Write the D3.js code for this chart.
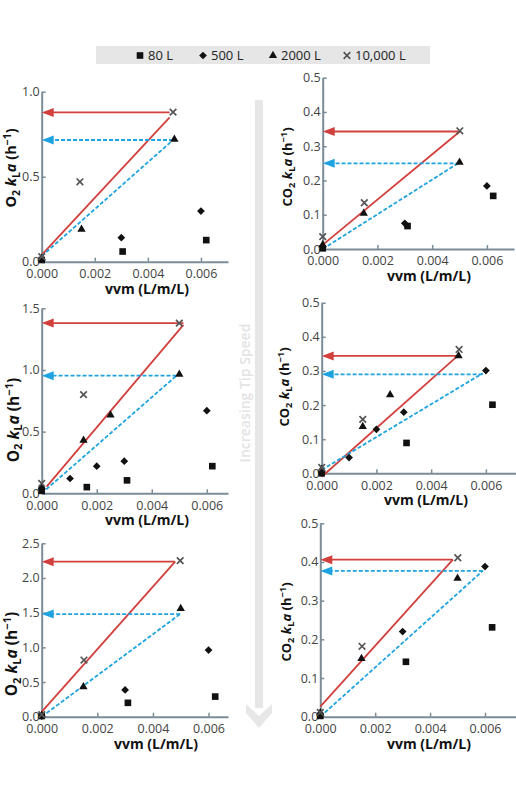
<!DOCTYPE html>
<meta charset="utf-8">
<style>
  body { margin: 0; background: #fff; font-family: "Open Sans", sans-serif; }
  .axis path, .axis line { stroke: #7b8c97; }
  .axis path { stroke-width: 2px; }
  .axis line { stroke-width: 1.5px; }
  .axis text { font-family: "Open Sans", sans-serif; font-size: 12.5px; fill: #444; }
</style>
<body>
<div id="chart"></div>
<script src="https://cdn.jsdelivr.net/npm/d3@7"></script>
<script>
// reactor sizes (legend)
const sizes = ["80 L", "500 L", "2000 L", "10,000 L"];
const xTicks = [0, 0.002, 0.004, 0.006];

// [size, vvm, kLa]  -- lowest tip speed
const o2Low = [
  ["80 L", 0, 0.01], ["80 L", 0.00305, 0.06], ["80 L", 0.0062, 0.127],
  ["500 L", 0, 0.015], ["500 L", 0.003, 0.141], ["500 L", 0.006, 0.298],
  ["2000 L", 0, 0.02], ["2000 L", 0.0015, 0.19], ["2000 L", 0.005, 0.72],
  ["10,000 L", 0, 0.03], ["10,000 L", 0.00144, 0.47], ["10,000 L", 0.00495, 0.88]
];
const co2Low = [
  ["80 L", 0, 0.002], ["80 L", 0.0031, 0.067], ["80 L", 0.00623, 0.155],
  ["500 L", 0, 0.007], ["500 L", 0.003, 0.075], ["500 L", 0.006, 0.184],
  ["2000 L", 0, 0.012], ["2000 L", 0.0015, 0.104], ["2000 L", 0.005, 0.253],
  ["10,000 L", 0, 0.036], ["10,000 L", 0.00152, 0.135], ["10,000 L", 0.00501, 0.345]
];
// middle tip speed
const o2Mid = [
  ["80 L", 0, 0.02], ["80 L", 0.00164, 0.05], ["80 L", 0.0031, 0.105], ["80 L", 0.0062, 0.22],
  ["500 L", 0, 0.04], ["500 L", 0.00103, 0.12], ["500 L", 0.002, 0.22], ["500 L", 0.003, 0.26], ["500 L", 0.006, 0.67],
  ["2000 L", 0, 0.05], ["2000 L", 0.00152, 0.43], ["2000 L", 0.0025, 0.635], ["2000 L", 0.005, 0.965],
  ["10,000 L", 0, 0.08], ["10,000 L", 0.00152, 0.8], ["10,000 L", 0.005, 1.38]
];
const co2Mid = [
  ["80 L", 0, 0], ["80 L", 0.0031, 0.089], ["80 L", 0.00624, 0.201],
  ["500 L", 0, 0.002], ["500 L", 0.001, 0.046], ["500 L", 0.002, 0.129], ["500 L", 0.003, 0.179], ["500 L", 0.006, 0.301],
  ["2000 L", 0, 0.012], ["2000 L", 0.0015, 0.137], ["2000 L", 0.0025, 0.23], ["2000 L", 0.005, 0.344],
  ["10,000 L", 0, 0.017], ["10,000 L", 0.0015, 0.158], ["10,000 L", 0.00502, 0.363]
];
// highest tip speed
const o2High = [
  ["80 L", 0, 0.01], ["80 L", 0.0031, 0.2], ["80 L", 0.00624, 0.29],
  ["500 L", 0, 0.01], ["500 L", 0.003, 0.385], ["500 L", 0.006, 0.96],
  ["2000 L", 0, 0.02], ["2000 L", 0.0015, 0.43], ["2000 L", 0.005, 1.56],
  ["10,000 L", 0, 0.03], ["10,000 L", 0.00152, 0.817], ["10,000 L", 0.00498, 2.25]
];
const co2High = [
  ["80 L", 0, 0.002], ["80 L", 0.00312, 0.142], ["80 L", 0.00626, 0.231],
  ["500 L", 0, 0.004], ["500 L", 0.003, 0.22], ["500 L", 0.006, 0.388],
  ["2000 L", 0, 0.01], ["2000 L", 0.0015, 0.15], ["2000 L", 0.005, 0.358],
  ["10,000 L", 0, 0.011], ["10,000 L", 0.00152, 0.182], ["10,000 L", 0.00501, 0.411]
];

// fit lines: [vvm0, kLa0, vvm1, kLa1, arrow kLa]
const redFits = [
  [0, 0.04, 0.00482, 0.849, 0.878],
  [0, 0.012, 0.00501, 0.343, 0.343],
  [0.00018, 0.054, 0.00515, 1.365, 1.38],
  [0, -0.01, 0.00505, 0.35, 0.344],
  [0, 0.07, 0.0048, 2.235, 2.235],
  [0, 0.026, 0.00483, 0.406, 0.406]
];
const blueFits = [
  [0, 0.033, 0.00495, 0.716, 0.716],
  [0, 0, 0.005, 0.253, 0.25],
  [0, 0, 0.0049, 0.954, 0.954],
  [0, 0.01, 0.00588, 0.293, 0.29],
  [0, 0, 0.00498, 1.48, 1.48],
  [0, 0, 0.00592, 0.377, 0.377]
];

const yTicksO2Low = [0, 0.5, 1.0];
const yTicksO2Mid = [0, 0.5, 1.0, 1.5];
const yTicksO2High = [0, 0.5, 1.0, 1.5, 2.0, 2.5];
const yTicksCO2 = [0, 0.1, 0.2, 0.3, 0.4, 0.5];

// panel layout (pixels)
const panels = [
  {data: o2Low, gas: "O", yTicks: yTicksO2Low, left: 41.7, right: 228, xMax: 0.00702, bottom: 261.7, top: 91.7, labX: 16, labY: 168, labFs: 14.5, xLabX: 147},
  {data: co2Low, gas: "CO", yTicks: yTicksCO2, left: 322.7, right: 514, xMax: 0.00699, bottom: 249, top: 77.7, labX: 292, labY: 167, labFs: 13, xLabX: 429},
  {data: o2Mid, gas: "O", yTicks: yTicksO2Mid, left: 41.7, right: 228, xMax: 0.00677, bottom: 493.3, top: 308.3, labX: 18.5, labY: 420, labFs: 15.5, xLabX: 147},
  {data: co2Mid, gas: "CO", yTicks: yTicksCO2, left: 321.7, right: 516, xMax: 0.0071, bottom: 473.3, top: 302.7, labX: 289, labY: 387, labFs: 13, xLabX: 426},
  {data: o2High, gas: "O", yTicks: yTicksO2High, left: 41.7, right: 228, xMax: 0.0067, bottom: 716.7, top: 543.3, labX: 17, labY: 654, labFs: 15.5, xLabX: 156},
  {data: co2High, gas: "CO", yTicks: yTicksCO2, left: 320.3, right: 516, xMax: 0.00713, bottom: 716.7, top: 523.3, labX: 291, labY: 622, labFs: 13, xLabX: 429}
];

const RED = "#d2403d";
const BLUE = "#1fa3e0";

const svg = d3.select("#chart").append("svg")
  .attr("width", 516).attr("height", 803)
  .style("display", "block")
  .style("font-family", "'Open Sans', sans-serif");

// marker drawing
const sq = d3.symbol(d3.symbolSquare, 44)();
const tri = d3.symbol(d3.symbolTriangle, 30)();
const dia = d3.symbol(d3.symbolSquare, 30)();
const times = "M-3.3,-3.3L3.3,3.3M-3.3,3.3L3.3,-3.3";

function marker(sel, size) {
  if (size === "80 L") sel.append("path").attr("d", sq).attr("fill", "#111");
  else if (size === "500 L") sel.append("path").attr("d", dia).attr("fill", "#111").attr("transform", "rotate(45)");
  else if (size === "2000 L") sel.append("path").attr("d", tri).attr("fill", "#111");
  else sel.append("path").attr("d", times).attr("fill", "none").attr("stroke", "#555").attr("stroke-width", 1.7);
}

// central "increasing tip speed" arrow
svg.append("rect").attr("x", 255).attr("y", 100).attr("width", 8).attr("height", 608).attr("fill", "#e7e7e7");
svg.append("path")
  .attr("d", "M246,704L259,716L272,704L272,713L259,728L246,713Z")
  .attr("fill", "#e7e7e7");
svg.append("text")
  .attr("transform", "translate(250,393) rotate(-90)")
  .attr("text-anchor", "middle")
  .attr("fill", "#e3e3e3")
  .style("font-size", "14px").style("font-weight", 600)
  .text("Increasing Tip Speed");

// legend
svg.append("rect").attr("x", 96).attr("y", 46).attr("width", 334).attr("height", 18).attr("fill", "#e6e6e6");
const legX = [140, 203, 273, 347];
sizes.forEach((s, i) => {
  const g = svg.append("g").attr("transform", `translate(${legX[i]},55.5)`);
  marker(g, s);
  svg.append("text").attr("x", legX[i] + 8).attr("y", 60)
    .attr("fill", "#222").style("font-size", "13px").text(s);
});

function yLabel(p) {
  const fs = p.labFs, sub = fs * 0.72, dn = fs * 0.25, up = fs * 0.36;
  const t = svg.append("text")
    .attr("transform", `translate(${p.labX},${p.labY}) rotate(-90)`)
    .attr("text-anchor", "middle")
    .attr("fill", "#111")
    .style("font-size", fs + "px").style("font-weight", 700);
  t.append("tspan").text(p.gas);
  t.append("tspan").attr("dy", dn).style("font-size", sub + "px").text("2");
  t.append("tspan").attr("dy", -dn).text(" ");
  t.append("tspan").style("font-style", "italic").text("k");
  t.append("tspan").attr("dy", dn).style("font-size", sub + "px").text("L");
  t.append("tspan").attr("dy", -dn).style("font-style", "italic").text("a");
  t.append("tspan").text(" (h");
  t.append("tspan").attr("dy", -up).style("font-size", sub + "px").text("\u22121");
  t.append("tspan").attr("dy", up).text(")");
}

panels.forEach((p, i) => {
  const x = d3.scaleLinear().domain([0, p.xMax]).range([p.left, p.right]);
  const yMax = p.yTicks[p.yTicks.length - 1];
  const y = d3.scaleLinear().domain([0, yMax]).range([p.bottom, p.top]);
  const g = svg.append("g");

  g.append("g").attr("class", "axis")
    .attr("transform", `translate(0,${p.bottom})`)
    .call(d3.axisBottom(x).tickValues(xTicks).tickFormat(d3.format(".3f"))
      .tickSizeInner(-4).tickSizeOuter(0).tickPadding(7.5));
  g.append("g").attr("class", "axis")
    .attr("transform", `translate(${p.left},0)`)
    .call(d3.axisLeft(y).tickValues(p.yTicks).tickFormat(d3.format(".1f"))
      .tickSizeInner(-4).tickSizeOuter(0).tickPadding(2));

  // fits and arrows
  [[redFits[i], RED, null], [blueFits[i], BLUE, "4,2"]].forEach(([f, col, dash]) => {
    g.append("line")
      .attr("x1", x(f[0])).attr("y1", y(f[1]))
      .attr("x2", x(f[2])).attr("y2", y(f[3]))
      .attr("stroke", col).attr("stroke-width", 1.8).attr("stroke-dasharray", dash);
    const ay = y(f[4]), ax = x(0);
    g.append("line")
      .attr("x1", x(f[2])).attr("y1", ay)
      .attr("x2", ax + 10).attr("y2", ay)
      .attr("stroke", col).attr("stroke-width", 1.8).attr("stroke-dasharray", dash);
    g.append("path")
      .attr("d", `M${ax},${ay}L${ax + 12},${ay - 4.5}L${ax + 12},${ay + 4.5}Z`)
      .attr("fill", col);
  });

  g.selectAll("g.pt").data(p.data).join("g")
    .attr("class", "pt")
    .attr("transform", d => `translate(${x(d[1])},${y(d[2])})`)
    .each(function (d) { marker(d3.select(this), d[0]); });

  g.append("text")
    .attr("x", p.xLabX).attr("y", p.bottom + 32)
    .attr("text-anchor", "middle").attr("fill", "#111")
    .style("font-size", "14px").style("font-weight", 700)
    .text("vvm (L/m/L)");

  yLabel(p);
});
</script>
